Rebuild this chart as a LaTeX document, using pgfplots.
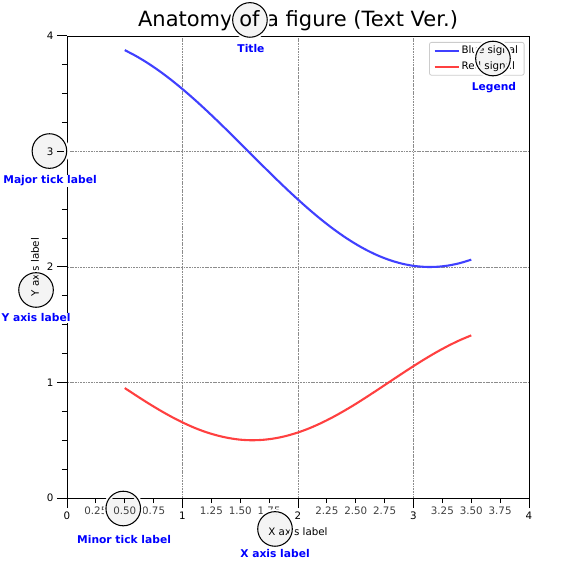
\documentclass[border=0pt]{standalone}
\usepackage{pgfplots}
\pgfplotsset{compat=1.18}
\usepackage{fontspec}
\setmainfont{DejaVu Sans}
\definecolor{sigblue}{rgb}{0.25,0.25,1}
\definecolor{sigred}{rgb}{1,0.25,0.25}
\newcommand\tfont{\fontsize{10.3bp}{12bp}\selectfont}
\newcommand\annfont{\bfseries\fontsize{10.7bp}{12bp}\selectfont}
\begin{document}
\begin{tikzpicture}
\begin{axis}[
  scale only axis, width=462bp, height=462bp,
  xmin=0, xmax=4, ymin=0, ymax=4,
  axis line style={black, line width=0.85bp},
  xtick={0,1,2,3,4}, xticklabels={0,1,2,3,4},
  ytick={0,1,2,3,4}, yticklabels={0,1,2,3,4},
  minor ytick={0.25,0.5,0.75,1.25,1.5,1.75,2.25,2.5,2.75,3.25,3.5,3.75},
  extra x ticks={0.25,0.5,0.75,1.25,1.5,1.75,2.25,2.5,2.75,3.25,3.5,3.75},
  extra x tick labels={0.25,0.50,0.75,1.25,1.50,1.75,2.25,2.50,2.75,3.25,3.50,3.75},
  extra x tick style={major tick length=5bp, grid=none, tick label style={text=black!75}},
  tick align=outside, tick pos=left,
  major tick length=10bp, minor tick length=5bp,
  tick style={black, line width=1bp},
  tick label style={font=\tfont},
  xmajorgrids, ymajorgrids,
  major grid style={black!45, line width=0.5bp, dash pattern=on 1.85bp off 0.8bp},
  xlabel={X axis label}, ylabel={Y axis label},
  xlabel style={at={(axis description cs:0.5,-0.072)}, anchor=center, font=\tfont},
  ylabel style={at={(axis description cs:-0.0693,0.5)}, anchor=center, font=\tfont},
  title={Anatomy of a figure (Text Ver.)},
  title style={at={(axis description cs:0.5,1)}, anchor=base, yshift=4bp, font=\fontsize{21bp}{25bp}\selectfont},
  legend style={at={(axis description cs:1,1)}, anchor=north east, xshift=-4.5bp, yshift=-6bp,
    draw=black!20, line width=0.8bp, rounded corners=2bp, fill=white, font=\tfont,
    inner xsep=4bp, inner ysep=1.5bp, row sep=2bp,
    nodes={inner sep=2bp, text height=7.6bp, text depth=2.3bp},
    /tikz/every even column/.append style={column sep=7bp}},
  legend image code/.code={\draw[#1] (0bp,0bp) -- (24bp,0bp);},
  legend cell align=left,
  clip=false,
]
\addplot[sigblue, line width=2.1bp, smooth] coordinates {
(0.5,3.8776) (0.6,3.8253) (0.7,3.7648) (0.8,3.6967) (0.9,3.6216) (1.0,3.5403)
(1.1,3.4536) (1.2,3.3624) (1.3,3.2675) (1.4,3.1700) (1.5,3.0707) (1.6,2.9708)
(1.7,2.8712) (1.8,2.7728) (1.9,2.6767) (2.0,2.5839) (2.1,2.4952) (2.2,2.4115)
(2.3,2.3337) (2.4,2.2626) (2.5,2.1989) (2.6,2.1431) (2.7,2.0959) (2.8,2.0578)
(2.9,2.0290) (3.0,2.0100) (3.1,2.0009) (3.2,2.0017) (3.3,2.0125) (3.4,2.0332)
(3.5,2.0635)};
\addlegendentry{Blue signal}
\addplot[sigred, line width=2.1bp, smooth] coordinates {
(0.5,0.9521) (0.6,0.8864) (0.7,0.8226) (0.8,0.7621) (0.9,0.7057) (1.0,0.6546)
(1.1,0.6094) (1.2,0.5716) (1.3,0.5416) (1.4,0.5192) (1.5,0.5050) (1.6,0.5000)
(1.7,0.5040) (1.8,0.5166) (1.9,0.5379) (2.0,0.5674) (2.1,0.6045) (2.2,0.6487)
(2.3,0.6990) (2.4,0.7549) (2.5,0.8147) (2.6,0.8784) (2.7,0.9439) (2.8,1.0104)
(2.9,1.0768) (3.0,1.1418) (3.1,1.2043) (3.2,1.2632) (3.3,1.3173) (3.4,1.3659)
(3.5,1.4079)};
\addlegendentry{Red signal}
\coordinate (cT) at (axis cs:1.584,4.139);
\coordinate (cL) at (axis cs:3.688,3.805);
\coordinate (cM) at (axis cs:-0.152,3.004);
\coordinate (cY) at (axis cs:-0.268,1.801);
\coordinate (cm) at (axis cs:0.487,-0.091);
\coordinate (cX) at (axis cs:1.801,-0.268);
\coordinate (tT) at (axis cs:1.593,3.853);
\coordinate (tL) at (axis cs:3.697,3.532);
\coordinate (tM) at (axis cs:-0.147,2.719);
\coordinate (tY) at (axis cs:-0.268,1.524);
\coordinate (tm) at (axis cs:0.494,-0.390);
\coordinate (tX) at (axis cs:1.801,-0.519);
\end{axis}
\foreach \c in {cT,cL,cM,cY,cm,cX}{
  \draw[white, line width=5bp] (\c) circle[radius=17.3bp];
  \fill[black, fill opacity=0.045] (\c) circle[radius=17.3bp];
  \draw[black, line width=1.05bp] (\c) circle[radius=17.3bp];
}
\foreach \p/\t in {tT/Title,tL/Legend,tM/Major tick label,tY/Y axis label,tm/Minor tick label,tX/X axis label}{
  \node[anchor=base, fill=white, inner sep=1bp, text=blue, font=\annfont] at (\p) {\t};
}
\pgfresetboundingbox
\useasboundingbox (-67bp,-71bp) rectangle (498bp,498bp);
\end{tikzpicture}
\end{document}
